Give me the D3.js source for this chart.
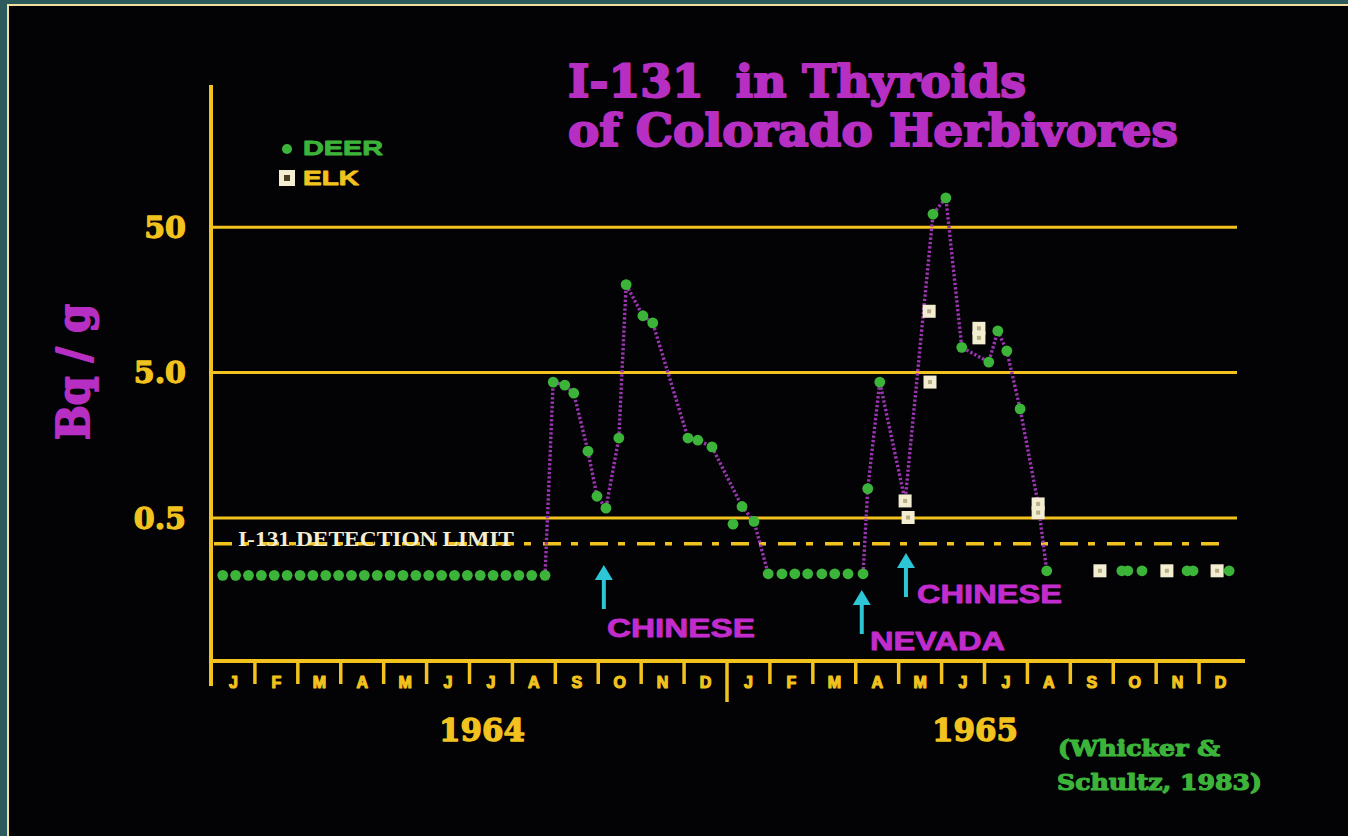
<!DOCTYPE html>
<html><head><meta charset="utf-8">
<script src="https://cdn.jsdelivr.net/npm/d3@7"></script>
<style>html,body{margin:0;padding:0;background:#2d5b5d;overflow:hidden}</style>
</head><body>
<script>
// ---------- data ----------
const monthLetters = ["J","F","M","A","M","J","J","A","S","O","N","D","J","F","M","A","M","J","J","A","S","O","N","D"];
const yearLabels = ["1964","1965"];
const yTickValues = [0.5, 5, 50];
const yTickLabels = ["0.5","5.0","50"];
const detectionLimit = 0.33;

// Deer: time in months since Jan 1964, value Bq/g
const deerMonths = [
  0.25,0.55,0.85,1.15,1.45,1.75,2.05,2.35,2.65,2.95,3.25,3.55,3.85,4.15,4.45,4.75,5.05,5.35,5.65,5.95,6.25,6.55,6.85,7.15,7.45,7.76,
  7.95,8.22,8.43,8.76,8.97,9.18,9.48,9.65,10.04,10.27,11.09,11.32,11.65,12.14,12.35,12.63,
  12.96,13.28,13.58,13.88,14.21,14.51,14.82,15.17,
  15.28,15.56,16.80,17.10,17.47,18.10,18.31,18.52,18.83,19.45,
  21.20,21.34,21.67,22.72,22.86,23.70];
const deerValues = [
  0.2,0.2,0.2,0.2,0.2,0.2,0.2,0.2,0.2,0.2,0.2,0.2,0.2,0.2,0.2,0.2,0.2,0.2,0.2,0.2,0.2,0.2,0.2,0.2,0.2,0.2,
  4.27,4.07,3.58,1.43,0.70,0.58,1.76,20,12.2,10.9,1.76,1.70,1.53,0.45,0.595,0.47,
  0.205,0.205,0.205,0.205,0.205,0.205,0.205,0.205,
  0.79,4.27,61,79,7.4,5.86,9.6,7.0,2.79,0.215,
  0.215,0.215,0.215,0.215,0.215,0.215];

// Elk
const elkMonths = [16.15,16.22,16.71,16.73,17.87,17.87,19.25,19.25,20.69,22.25,23.42];
const elkValues = [0.65,0.5,13.1,4.27,10.0,8.6,0.62,0.54,0.215,0.215,0.215];

// Connecting dotted trend line segments [month, value]
const trend1964 = [[7.76,0.2],[7.95,4.27],[8.22,4.07],[8.43,3.58],[8.76,1.43],[8.97,0.70],[9.18,0.58],[9.48,1.76],[9.65,20],[10.04,12.2],[10.27,10.9],[11.09,1.76],[11.32,1.70],[11.65,1.53],[12.35,0.595],[12.63,0.47],[12.96,0.205]];
const trend1965 = [[15.17,0.205],[15.28,0.79],[15.56,4.27],[16.15,0.65],[16.80,61],[17.10,79],[17.47,7.4],[18.10,5.86],[18.31,9.6],[18.52,7.0],[18.83,2.79],[19.25,0.62],[19.45,0.215]];

// Test events
const eventMonths = [9.13, 15.14, 16.17];
const eventLabels = ["CHINESE","NEVADA","CHINESE"];

// ---------- layout ----------
const W = 1348, H = 836;
const C = {yellow:"#f2c21e", magenta:"#b62fc2", green:"#3cb43a", cyan:"#2cc6d6", purple:"#9a34b0", cream:"#f3eed2"};
const svg = d3.select("body").append("svg").attr("width",W).attr("height",H);

svg.append("rect").attr("x",0).attr("y",0).attr("width",W).attr("height",H).attr("fill","#2d5b5d");
svg.append("rect").attr("x",8).attr("y",5).attr("width",W).attr("height",H).attr("fill","#030305")
  .attr("stroke","#efe0a0").attr("stroke-width",2);

const x = d3.scaleLinear().domain([0,24]).range([212,1242]);
const y = d3.scaleLog().domain([0.05,500]).range([662.9,81.3]);

function heavy(sel, color, w){ return sel.attr("stroke",color).attr("stroke-width",w).attr("stroke-linejoin","round").attr("paint-order","stroke"); }

// gridlines + y tick labels
const yAxis = d3.axisLeft(y).tickValues(yTickValues).tickFormat((d,i)=>yTickLabels[i])
  .tickSizeInner(-(1237-211)).tickSizeOuter(0).tickPadding(25);
const gy = svg.append("g").attr("transform","translate(211,0)").call(yAxis);
gy.select(".domain").remove();
gy.selectAll(".tick line").attr("stroke",C.yellow).attr("stroke-width",3);
heavy(gy.selectAll(".tick text").attr("fill",C.yellow).attr("font-family","DejaVu Serif")
  .attr("font-weight","bold").attr("font-size",30).attr("dy","0.36em"), C.yellow, 1.3);

// detection limit
svg.append("line").attr("x1",214).attr("x2",1228).attr("y1",y(detectionLimit)).attr("y2",y(detectionLimit))
  .attr("stroke",C.yellow).attr("stroke-width",3.5).attr("stroke-dasharray","18,10,7,12");
svg.append("text").attr("x",238).attr("y",y(detectionLimit)+2).text("I-131 DETECTION LIMIT")
  .attr("fill",C.cream).attr("font-family","Liberation Serif").attr("font-weight","bold")
  .attr("font-size",20).attr("textLength",276).attr("lengthAdjust","spacingAndGlyphs");

// axes lines
svg.append("line").attr("x1",211).attr("x2",211).attr("y1",85).attr("y2",686)
  .attr("stroke",C.yellow).attr("stroke-width",4);
svg.append("line").attr("x1",209).attr("x2",1245).attr("y1",661).attr("y2",661)
  .attr("stroke",C.yellow).attr("stroke-width",4);

// month ticks and labels
const boundaries = d3.range(1,24);
svg.selectAll(".mtick").data(boundaries).join("line")
  .attr("x1",d=>x(d)).attr("x2",d=>x(d)).attr("y1",661).attr("y2",d=>d===12?702:684)
  .attr("stroke",C.yellow).attr("stroke-width",3.5);
heavy(svg.selectAll(".mlab").data(monthLetters).join("text")
  .attr("x",(d,i)=>x(i+0.5)).attr("y",688).attr("text-anchor","middle").text(d=>d)
  .attr("fill",C.yellow).attr("font-family","Liberation Sans").attr("font-weight","bold").attr("font-size",16), C.yellow, 1.2);
heavy(svg.selectAll(".ylab").data(yearLabels).join("text")
  .attr("x",(d,i)=>[482,975][i]).attr("y",741).attr("text-anchor","middle").text(d=>d)
  .attr("fill",C.yellow).attr("font-family","DejaVu Serif").attr("font-weight","bold").attr("font-size",31)
  .attr("textLength",86).attr("lengthAdjust","spacingAndGlyphs"), C.yellow, 1.3);

// trend lines
const line = d3.line().x(d=>x(d[0])).y(d=>y(d[1]));
[trend1964, trend1965].forEach(seg=>{
  svg.append("path").attr("d",line(seg)).attr("fill","none").attr("stroke",C.purple)
    .attr("stroke-width",3.4).attr("stroke-dasharray","2.4,2");
});

// deer points
svg.selectAll(".deer").data(deerMonths).join("circle")
  .attr("cx",d=>x(d)).attr("cy",(d,i)=>y(deerValues[i])).attr("r",5.4).attr("fill",C.green);
// elk points
const elk = svg.selectAll(".elk").data(elkMonths).join("g")
  .attr("transform",(d,i)=>`translate(${x(d)},${y(elkValues[i])})`);
elk.append("rect").attr("x",-6.5).attr("y",-6.5).attr("width",13).attr("height",13).attr("fill",C.cream);
elk.append("rect").attr("x",-2).attr("y",-2).attr("width",4).attr("height",4).attr("fill","#b8ae88");

// event arrows
const arrowTop = [565, 590, 553];
const labelPos = [[607,637],[870,650],[917,603]];
const labelLen = [148,135,145];
eventMonths.forEach((m,i)=>{
  const ax = x(m), t = arrowTop[i];
  svg.append("line").attr("x1",ax).attr("x2",ax).attr("y1",t+12).attr("y2",t+44)
    .attr("stroke",C.cyan).attr("stroke-width",4);
  svg.append("path").attr("d",`M${ax},${t} L${ax-9},${t+15} L${ax+9},${t+15} Z`).attr("fill",C.cyan);
  heavy(svg.append("text").attr("x",labelPos[i][0]).attr("y",labelPos[i][1]).text(eventLabels[i])
    .attr("fill","#c22ccc").attr("font-family","Liberation Sans").attr("font-weight","bold")
    .attr("font-size",25).attr("textLength",labelLen[i]).attr("lengthAdjust","spacingAndGlyphs"), "#c22ccc", 0.8);
});

// title
heavy(svg.append("text").attr("x",568).attr("y",97).text("I-131  in Thyroids")
  .attr("fill",C.magenta).attr("font-family","DejaVu Serif").attr("font-weight","bold").attr("font-size",45)
  .attr("textLength",458).attr("lengthAdjust","spacingAndGlyphs").style("white-space","pre"), C.magenta, 2);
heavy(svg.append("text").attr("x",568).attr("y",146).text("of Colorado Herbivores")
  .attr("fill",C.magenta).attr("font-family","DejaVu Serif").attr("font-weight","bold").attr("font-size",45)
  .attr("textLength",610).attr("lengthAdjust","spacingAndGlyphs"), C.magenta, 2);

// y axis title
heavy(svg.append("text").attr("transform","translate(89,372) rotate(-90)").attr("text-anchor","middle").text("Bq / g")
  .attr("fill",C.magenta).attr("font-family","DejaVu Serif").attr("font-weight","bold").attr("font-size",44)
  .attr("textLength",136).attr("lengthAdjust","spacingAndGlyphs"), C.magenta, 2);

// legend
svg.append("circle").attr("cx",287).attr("cy",149).attr("r",5).attr("fill",C.green);
heavy(svg.append("text").attr("x",303).attr("y",155).text("DEER").attr("fill",C.green)
  .attr("font-family","Liberation Sans").attr("font-weight","bold").attr("font-size",20)
  .attr("textLength",80).attr("lengthAdjust","spacingAndGlyphs"), C.green, 0.8);
svg.append("rect").attr("x",279).attr("y",170).attr("width",16).attr("height",16).attr("fill",C.cream);
svg.append("rect").attr("x",284).attr("y",175).attr("width",6).attr("height",6).attr("fill","#4a4020");
heavy(svg.append("text").attr("x",303).attr("y",185).text("ELK").attr("fill",C.yellow)
  .attr("font-family","Liberation Sans").attr("font-weight","bold").attr("font-size",20)
  .attr("textLength",56).attr("lengthAdjust","spacingAndGlyphs"), C.yellow, 0.8);

// citation
heavy(svg.append("text").attr("x",1058).attr("y",756).text("(Whicker &").attr("fill",C.green)
  .attr("font-family","DejaVu Serif").attr("font-weight","bold").attr("font-size",22)
  .attr("textLength",162).attr("lengthAdjust","spacingAndGlyphs"), C.green, 1.2);
heavy(svg.append("text").attr("x",1057).attr("y",790).text("Schultz, 1983)").attr("fill",C.green)
  .attr("font-family","DejaVu Serif").attr("font-weight","bold").attr("font-size",22)
  .attr("textLength",205).attr("lengthAdjust","spacingAndGlyphs"), C.green, 1.2);
</script>
</body></html>
